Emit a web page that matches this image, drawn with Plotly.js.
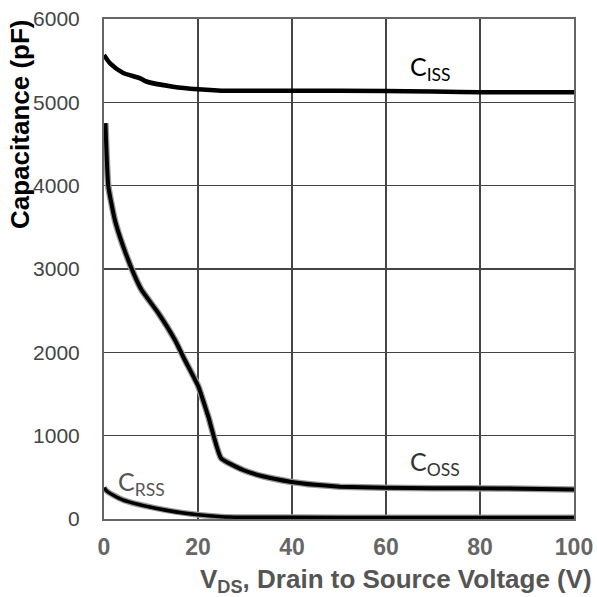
<!DOCTYPE html>
<html><head><meta charset="utf-8">
<script src="https://cdn.plot.ly/plotly-3.0.1.min.js"></script>
<style>body{margin:0;background:#fff}#c{width:597px;height:597px}</style>
</head><body><div id="c"></div>
<script>
const cissV = [0, 1.3, 4, 7.7, 9, 14.7, 20, 25, 30, 40, 60, 70, 80, 100];
const cissC = [5568, 5468, 5356, 5288, 5250, 5188, 5156, 5140, 5140, 5140, 5136, 5130, 5122, 5120];
const cossV = [0.3, 0.9, 2.3, 4.1, 6.6, 8, 11.6, 15.1, 17.2, 20.1, 22.2, 24.9, 29.6, 34, 39.6, 45, 50.2, 59.8, 70, 84.3, 100];
const cossC = [4750, 4000, 3590, 3268, 2908, 2748, 2468, 2148, 1908, 1588, 1228, 730, 588, 510, 448, 410, 388, 376, 370, 366, 355];
const crssV = [0, 0.7, 4, 11, 20, 25, 30, 40, 60, 80, 100];
const crssC = [375, 330, 230, 130, 50, 28, 22, 20, 18, 18, 18];
const xTicks = [0, 20, 40, 60, 80, 100];
const xTickText = ['0', '20', '40', '60', '80', '100'];
const yTicks = [0, 1000, 2000, 3000, 4000, 5000, 6000];

const traces = [
  {x: cissV, y: cissC, mode: 'lines', line: {color: '#000', width: 4.5, shape: 'spline', smoothing: 0.8}, hoverinfo: 'skip'},
  {x: cossV, y: cossC, mode: 'lines', line: {color: '#999', width: 6.5, shape: 'spline', smoothing: 0.4}, hoverinfo: 'skip'},
  {x: cossV, y: cossC, mode: 'lines', line: {color: '#000', width: 4, shape: 'spline', smoothing: 0.4}, hoverinfo: 'skip'},
  {x: crssV, y: crssC, mode: 'lines', line: {color: '#999', width: 6, shape: 'spline', smoothing: 0.6}, hoverinfo: 'skip'},
  {x: crssV, y: crssC, mode: 'lines', line: {color: '#000', width: 3.5, shape: 'spline', smoothing: 0.6}, hoverinfo: 'skip'}
];
const pw = 597 - 104 - 23, ph = 597 - 19 - 78;
const layout = {
  width: 597, height: 597,
  margin: {l: 104, r: 23, t: 19, b: 78},
  paper_bgcolor: '#fff', plot_bgcolor: '#fff',
  showlegend: false,
  xaxis: {range: [0, 100], tickvals: xTicks, ticktext: xTickText.map(t => '<b>' + t + '</b>'), ticks: '', showgrid: true, gridcolor: '#444', gridwidth: 1.5,
    zeroline: false, showline: true, linecolor: '#666', linewidth: 2, mirror: true,
    ticklabelstandoff: 6,
    tickfont: {family: 'Arial, Liberation Sans', size: 23, color: '#666'}},
  yaxis: {range: [0, 6000], tickvals: yTicks, ticks: '', showgrid: true, gridcolor: '#444', gridwidth: 1.5,
    zeroline: false, showline: true, linecolor: '#666', linewidth: 2, mirror: true,
    ticklabelstandoff: 18,
    tickfont: {family: 'Arial, Liberation Sans', size: 21, color: '#444'}},
  annotations: [
    {xref: 'paper', yref: 'paper', x: (20 - 104) / pw, y: 1 - (124 - 19) / ph, xanchor: 'center', yanchor: 'middle',
     text: '<b>Capacitance (pF)</b>', showarrow: false, textangle: -90,
     font: {family: 'Arial, Liberation Sans', size: 26, color: '#000'}},
    {xref: 'paper', yref: 'paper', x: (594 - 104) / pw, y: 1 - (580 - 19) / ph, xanchor: 'right', yanchor: 'middle',
     text: '<b>V<sub>DS</sub>, Drain to Source Voltage (V)</b>', showarrow: false,
     font: {family: 'Arial, Liberation Sans', size: 26, color: '#555'}},
    {x: 69.4, y: 5412, xref: 'x', yref: 'y', xanchor: 'center', yanchor: 'middle', text: 'C<sub>ISS</sub>', showarrow: false, font: {family: 'Lato, Open Sans, Liberation Sans', size: 25, color: '#000'}},
    {x: 70.4, y: 672, xref: 'x', yref: 'y', xanchor: 'center', yanchor: 'middle', text: 'C<sub>OSS</sub>', showarrow: false, font: {family: 'Lato, Open Sans, Liberation Sans', size: 25, color: '#333'}},
    {x: 7.9, y: 432, xref: 'x', yref: 'y', xanchor: 'center', yanchor: 'middle', text: 'C<sub>RSS</sub>', showarrow: false, font: {family: 'Lato, Open Sans, Liberation Sans', size: 25, color: '#555'}}
  ]
};
Plotly.newPlot('c', traces, layout, {staticPlot: true});
</script></body></html>
